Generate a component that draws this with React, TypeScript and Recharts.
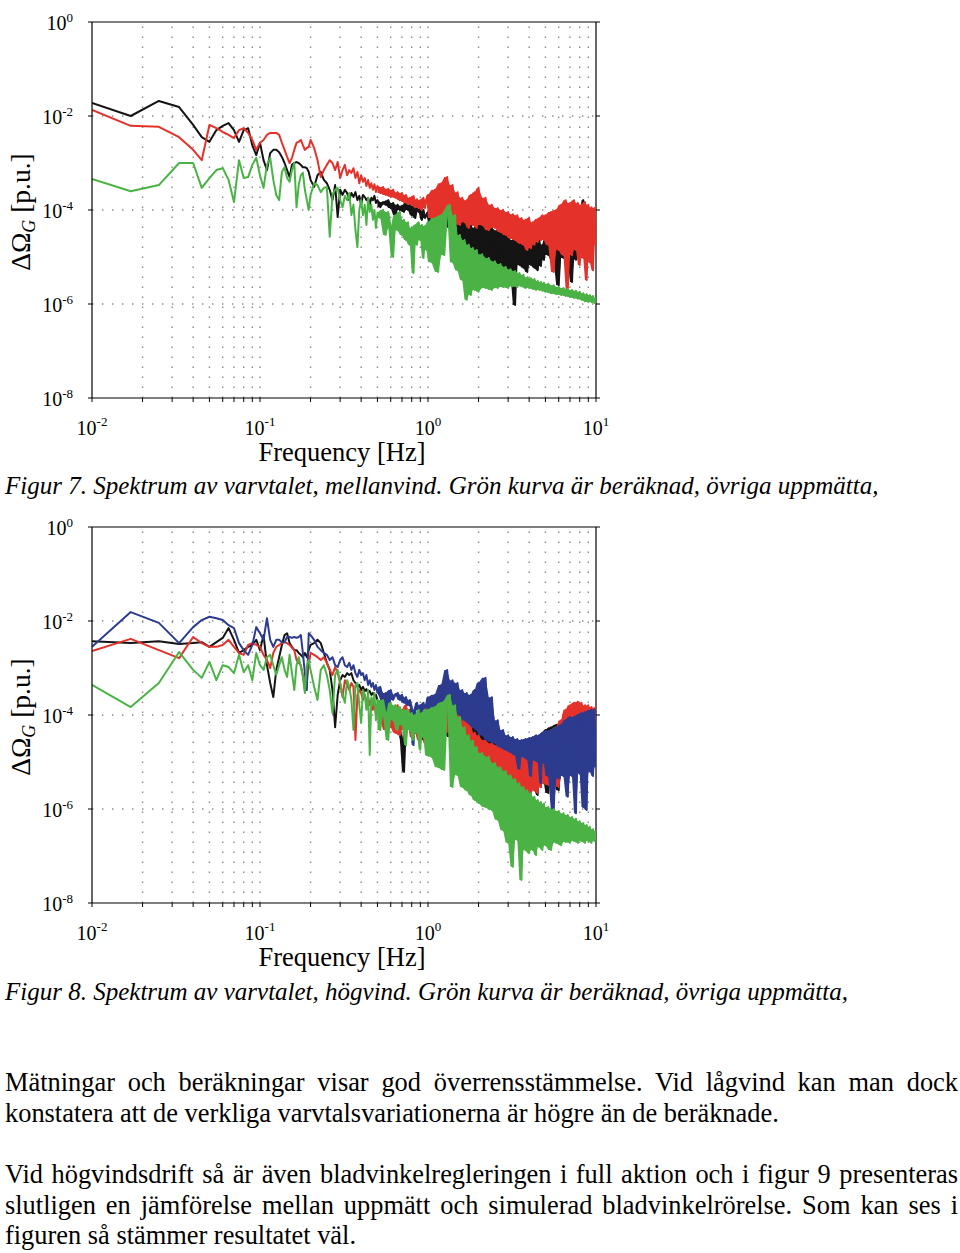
import React from 'react'
import { ComposedChart, Line, Area, XAxis, YAxis, ReferenceLine, Label } from 'recharts'

const SERIF = '"Liberation Serif", "Times New Roman", serif'

// frequency bins [Hz], shared by both figures
const FREQ = [
  0.01, 0.017, 0.025, 0.033, 0.04, 0.045, 0.05, 0.055, 0.06, 0.065, 0.07, 0.075, 0.08, 0.085, 0.09, 0.095,
  0.1, 0.105, 0.11, 0.115, 0.12, 0.125, 0.13, 0.135, 0.14, 0.145, 0.15, 0.155, 0.16, 0.165, 0.17, 0.175, 0.18, 0.185, 0.19, 0.195,
  0.2, 0.21, 0.22, 0.23, 0.24, 0.25, 0.26, 0.27, 0.28, 0.29, 0.3, 0.31, 0.32, 0.33, 0.34,
  0.35, 0.36, 0.37, 0.38, 0.39, 0.4, 0.41, 0.42, 0.43, 0.44, 0.45, 0.46, 0.47, 0.48, 0.49,
  0.5, 0.52, 0.54, 0.56, 0.58, 0.6, 0.62, 0.64, 0.66, 0.68, 0.7, 0.72, 0.74,
  0.76, 0.78, 0.8, 0.82, 0.84, 0.86, 0.88, 0.9, 0.92, 0.94, 0.96, 0.98,
  1.0, 1.05, 1.1, 1.15, 1.2, 1.25, 1.3, 1.35, 1.4, 1.45, 1.5, 1.55, 1.6, 1.65, 1.7, 1.75, 1.8, 1.85, 1.9, 1.95,
  2.0, 2.1, 2.2, 2.3, 2.4, 2.5, 2.6, 2.7, 2.8, 2.9, 3.0, 3.1, 3.2, 3.3, 3.4,
  3.5, 3.6, 3.7, 3.8, 3.9, 4.0, 4.1, 4.2, 4.3, 4.4, 4.5, 4.6, 4.7, 4.8, 4.9,
  5.0, 5.2, 5.4, 5.6, 5.8, 6.0, 6.2, 6.4, 6.6, 6.8, 7.0, 7.2, 7.4,
  7.6, 7.8, 8.0, 8.2, 8.4, 8.6, 8.8, 9.0, 9.2, 9.4, 9.6, 9.8, 10.0,
]

// Figur 7 (mellanvind), log10 of delta Omega_G [p.u.]
const FIG7_BLACK = [
  -1.72, -2.0, -1.68, -1.81, -2.19, -2.45, -2.55, -2.3, -2.21, -2.15, -2.3, -2.55, -2.3, -2.26, -2.62, -2.83,
  -2.57, -2.94, -3.15, -2.79, -2.72, -2.72, -2.77, -2.87, -3.0, -3.15, -3.3, -3.04, -3.0, -2.98, -3.0, -3.04, -3.09, -3.09, -3.11, -3.19,
  -3.36, -3.51, -3.26, -3.19, -3.36, -3.43, -3.57, -3.79, -3.47, -4.15, -3.57, -3.68, -3.57, -3.64, -3.79,
  -3.64, -3.72, -3.62, -3.79, -3.7, -3.89, -3.68, -3.72, -3.79, -3.74, -3.89, -3.74, -3.79, -3.7, -3.85,
  -3.79, -3.94, -3.83, -3.89, -3.79, -3.96, -3.85, -4.11, -3.89, -4.0, -3.91, -4.04, -3.85,
  -4.0, -3.89, -4.11, -3.91, -4.17, -3.96, -4.04, -3.91, -4.21, -4.0, -4.17, -4.11,
  -4.04, -4.26, -4.0, -4.32, -3.96, -4.26, -4.04, -4.38, -4.11, -4.47, -4.17, -4.64, -4.21, -4.74, -4.26, -4.85, -4.32, -4.96, -4.38, -5.11,
  -4.26, -5.02, -4.32, -5.17, -4.38, -5.11, -4.43, -5.28, -4.47, -5.23, -4.53, -5.38, -4.64, -6.02, -4.6,
  -5.17, -4.53, -5.23, -4.6, -5.32, -4.64, -5.17, -4.57, -5.23, -4.53, -5.28, -4.64, -5.19, -4.74, -5.06,
  -4.53, -4.96, -4.43, -5.11, -4.47, -5.6, -4.53, -5.02, -4.38, -5.11, -4.43, -5.53, -4.38,
  -5.06, -4.32, -4.96, -4.11, -3.79, -4.43, -5.11, -4.32, -4.85, -4.26, -4.74, -4.21, -4.64,
]
const FIG7_RED = [
  -1.87, -2.21, -2.23, -2.45, -2.72, -2.94, -2.19, -2.26, -2.34, -2.4, -2.47, -2.3, -2.26, -2.36, -2.51, -2.72,
  -2.57, -2.51, -2.4, -2.36, -2.36, -2.36, -2.4, -2.57, -2.72, -2.87, -3.0, -2.89, -2.72, -2.57, -2.55, -2.51, -2.62, -2.72, -2.68, -2.66,
  -2.51, -2.68, -2.94, -3.3, -3.15, -3.04, -2.94, -3.0, -3.15, -2.98, -3.32, -3.15, -3.04, -3.26, -3.15,
  -3.21, -3.11, -3.32, -3.19, -3.43, -3.26, -3.4, -3.32, -3.49, -3.36, -3.53, -3.43, -3.57, -3.45, -3.62,
  -3.49, -3.64, -3.51, -3.68, -3.55, -3.72, -3.57, -3.74, -3.62, -3.79, -3.64, -3.83, -3.68,
  -3.87, -3.74, -3.89, -3.7, -3.94, -3.77, -3.96, -3.79, -4.0, -3.74, -3.96, -3.79,
  -3.68, -4.17, -3.57, -4.21, -3.43, -4.11, -3.3, -4.17, -3.47, -4.26, -3.62, -4.32, -3.74, -4.26, -3.79, -4.38, -3.68, -4.32, -3.62, -4.38,
  -3.53, -4.32, -3.74, -4.43, -3.89, -4.38, -3.96, -4.47, -4.0, -4.53, -4.04, -4.6, -4.09, -4.64, -4.11,
  -4.7, -4.17, -4.74, -4.21, -4.85, -4.17, -4.81, -4.26, -4.74, -4.21, -4.68, -4.17, -4.64, -4.11, -4.64,
  -4.11, -4.74, -4.04, -5.32, -4.0, -4.85, -3.89, -4.96, -3.79, -5.7, -3.85, -4.96, -3.79,
  -4.85, -3.85, -5.17, -3.89, -5.02, -3.83, -5.49, -3.89, -5.11, -3.94, -5.28, -3.96, -4.74,
]
const FIG7_GREEN = [
  -3.34, -3.6, -3.47, -3.0, -3.0, -3.53, -3.32, -3.15, -3.11, -3.36, -3.83, -2.94, -3.32, -3.3, -3.04, -2.89,
  -3.26, -3.53, -3.04, -2.89, -3.36, -3.68, -3.79, -3.19, -3.09, -3.32, -3.4, -3.15, -3.0, -3.94, -3.47, -3.26, -3.21, -3.57, -3.79, -4.0,
  -3.68, -3.43, -3.47, -3.62, -3.53, -3.51, -4.57, -3.68, -3.57, -3.53, -3.79, -3.94, -3.7, -3.79, -3.64,
  -4.11, -3.89, -4.43, -4.79, -4.0, -3.79, -4.11, -3.89, -4.32, -3.74, -4.04, -3.89, -4.21, -4.0, -4.38,
  -4.06, -4.17, -4.0, -4.53, -4.04, -4.38, -5.0, -4.11, -4.43, -4.04, -4.53, -4.21, -4.64,
  -4.26, -4.74, -4.38, -5.34, -4.32, -4.74, -4.26, -4.64, -4.32, -5.02, -4.34, -4.85,
  -4.26, -5.11, -4.17, -5.32, -4.11, -4.96, -4.0, -3.89, -5.11, -4.11, -5.28, -4.53, -5.49, -4.64, -5.91, -4.74, -5.81, -4.81, -5.7, -4.85,
  -5.74, -4.94, -5.66, -5.02, -5.7, -5.09, -5.66, -5.15, -5.64, -5.21, -5.66, -5.26, -5.62, -5.3, -5.64,
  -5.34, -5.62, -5.38, -5.66, -5.43, -5.66, -5.45, -5.68, -5.47, -5.7, -5.51, -5.7, -5.53, -5.72, -5.55,
  -5.74, -5.57, -5.77, -5.6, -5.79, -5.64, -5.81, -5.66, -5.83, -5.68, -5.85, -5.7, -5.87,
  -5.72, -5.89, -5.74, -5.91, -5.77, -5.94, -5.79, -5.96, -5.81, -5.96, -5.83, -5.98, -5.87,
]

// Figur 8 (högvind)
const FIG8_BLACK = [
  -2.43, -2.47, -2.43, -2.49, -2.47, -2.45, -2.55, -2.45, -2.36, -2.15, -2.4, -2.68, -2.62, -2.55, -2.51, -2.4,
  -2.62, -2.3, -2.94, -3.32, -3.62, -3.04, -2.77, -2.51, -2.3, -2.26, -2.47, -2.55, -2.62, -2.62, -2.68, -2.72, -2.77, -2.68, -2.77, -2.62,
  -2.51, -2.47, -2.4, -2.47, -2.68, -2.89, -3.04, -3.47, -4.26, -3.57, -3.26, -3.15, -3.19, -3.11, -3.15,
  -3.11, -3.26, -3.32, -3.4, -3.36, -3.47, -3.4, -3.49, -3.45, -3.53, -3.49, -3.57, -3.53, -3.62, -3.57,
  -3.68, -3.79, -3.7, -3.94, -3.85, -4.09, -3.98, -4.25, -4.11, -4.32, -4.53, -5.21, -4.17,
  -4.26, -4.11, -4.17, -4.32, -4.21, -4.38, -4.26, -4.43, -4.32, -4.53, -4.38, -4.64,
  -3.83, -4.32, -3.77, -4.43, -3.68, -4.38, -3.57, -4.47, -3.68, -4.53, -3.79, -4.64, -3.89, -4.74, -4.0, -4.85, -4.11, -4.96, -4.21, -5.02,
  -4.26, -5.11, -4.38, -5.23, -4.47, -5.32, -4.6, -5.38, -4.64, -5.45, -4.68, -5.49, -4.74, -5.53, -4.74,
  -5.6, -4.7, -5.53, -4.64, -5.66, -4.6, -5.49, -4.53, -5.6, -4.47, -5.7, -4.43, -5.53, -4.38, -5.45,
  -4.32, -5.66, -4.26, -5.38, -4.21, -5.6, -4.17, -5.28, -4.11, -5.32, -4.04, -5.23, -4.0,
  -5.7, -4.0, -5.17, -3.96, -5.11, -3.94, -5.23, -3.91, -5.02, -3.89, -5.11, -3.89, -4.85,
]
const FIG8_RED = [
  -2.64, -2.38, -2.62, -2.79, -2.34, -2.47, -2.55, -2.55, -2.51, -2.4, -2.55, -2.68, -2.72, -2.51, -2.47, -2.51,
  -2.55, -2.72, -2.83, -3.0, -2.68, -2.55, -2.51, -2.47, -2.45, -2.47, -2.51, -2.57, -2.62, -2.83, -2.89, -2.94, -3.15, -3.47, -3.26, -2.94,
  -2.68, -2.72, -2.77, -2.83, -2.77, -2.89, -3.04, -3.15, -2.98, -3.11, -3.32, -3.62, -3.26, -3.36, -3.47,
  -3.32, -3.4, -4.53, -3.57, -3.47, -3.53, -3.68, -3.57, -3.74, -3.62, -3.79, -3.68, -3.89, -3.74, -4.0,
  -3.79, -4.11, -3.89, -4.32, -3.79, -4.26, -3.89, -4.38, -3.79, -4.43, -3.89, -4.32, -3.79,
  -4.21, -3.89, -4.47, -3.96, -4.38, -4.0, -4.53, -3.91, -4.43, -3.96, -4.6, -4.0,
  -3.79, -4.32, -3.68, -4.26, -3.57, -4.32, -3.47, -4.38, -3.62, -4.43, -3.74, -4.53, -3.89, -4.64, -4.04, -4.74, -4.21, -4.89, -4.38, -5.02,
  -4.43, -5.17, -4.53, -5.23, -4.6, -5.32, -4.64, -5.38, -4.68, -5.45, -4.74, -5.49, -4.7, -5.55, -4.74,
  -5.6, -4.77, -5.66, -4.74, -5.62, -4.7, -5.7, -4.64, -5.6, -4.6, -5.66, -4.55, -5.53, -4.47, -5.45,
  -4.38, -5.49, -4.32, -5.32, -4.26, -5.53, -4.11, -5.23, -3.89, -5.02, -3.79, -4.85, -3.74,
  -4.89, -3.72, -4.74, -3.74, -5.02, -3.79, -4.81, -3.79, -4.96, -3.83, -5.06, -3.85, -4.74,
]
const FIG8_BLUE = [
  -2.55, -1.81, -2.04, -2.47, -2.13, -1.98, -1.91, -1.94, -1.98, -2.09, -2.15, -2.47, -2.62, -2.72, -2.51, -2.13,
  -2.26, -2.4, -1.94, -2.4, -2.55, -2.4, -2.4, -2.45, -2.45, -2.34, -2.34, -2.36, -2.34, -2.36, -2.34, -2.3, -2.68, -3.11, -3.47, -2.26,
  -2.3, -2.4, -2.55, -2.62, -2.68, -2.72, -2.83, -2.77, -2.94, -2.98, -2.83, -2.77, -2.94, -2.98, -2.89,
  -3.04, -2.94, -3.11, -3.19, -3.04, -3.15, -3.11, -3.26, -3.15, -3.36, -3.26, -3.4, -3.32, -3.47, -3.36,
  -3.53, -3.4, -3.68, -3.53, -4.32, -3.47, -3.68, -3.57, -3.53, -3.68, -3.57, -3.74, -3.62,
  -3.79, -3.68, -3.83, -4.64, -3.89, -3.74, -3.91, -3.79, -3.96, -3.74, -3.89, -3.79,
  -3.62, -4.0, -3.57, -3.96, -3.36, -3.89, -3.04, -3.79, -3.26, -3.96, -3.32, -4.0, -3.47, -4.11, -3.53, -4.17, -3.57, -4.26, -3.47, -4.32,
  -3.32, -4.43, -3.21, -4.55, -3.62, -4.6, -4.11, -4.68, -4.32, -4.74, -4.43, -4.79, -4.47, -4.85, -4.51,
  -5.15, -4.53, -4.89, -4.51, -4.94, -4.49, -5.3, -4.47, -4.96, -4.43, -5.0, -4.43, -5.45, -4.38, -5.02,
  -4.34, -5.3, -4.32, -6.09, -4.26, -5.35, -4.21, -5.3, -4.11, -5.74, -4.04, -5.3, -4.04,
  -6.09, -4.0, -5.25, -3.96, -5.96, -3.94, -6.02, -3.91, -5.2, -3.89, -5.3, -3.89, -5.11,
]
const FIG8_GREEN = [
  -3.36, -3.83, -3.32, -2.66, -3.04, -3.21, -2.87, -3.26, -2.94, -2.98, -3.11, -2.72, -3.09, -2.94, -3.26, -2.68,
  -2.94, -3.04, -2.77, -2.72, -2.94, -3.15, -2.94, -2.77, -3.04, -3.19, -2.72, -3.11, -3.47, -2.94, -2.77, -2.98, -3.19, -3.53, -2.94, -2.83,
  -3.04, -3.4, -3.68, -3.04, -2.94, -3.15, -3.47, -3.96, -3.15, -3.04, -3.32, -3.57, -3.74, -3.26, -3.4,
  -3.68, -4.32, -3.36, -3.32, -3.79, -4.17, -3.47, -3.57, -3.89, -3.47, -4.85, -3.62, -3.79, -3.53, -4.11,
  -3.68, -4.32, -3.68, -4.0, -4.53, -3.74, -4.11, -3.79, -4.32, -3.83, -4.21, -3.89, -4.64,
  -3.89, -4.32, -3.96, -4.53, -4.0, -4.38, -3.89, -4.74, -3.96, -4.47, -3.89, -4.85,
  -3.89, -4.89, -3.83, -5.11, -3.74, -5.17, -3.68, -3.57, -5.53, -3.79, -5.28, -4.04, -5.53, -4.26, -5.6, -4.43, -5.7, -4.55, -5.81, -4.68,
  -5.87, -4.81, -5.96, -4.89, -6.02, -5.02, -6.23, -5.11, -6.45, -5.19, -6.72, -5.28, -7.23, -5.36, -6.66,
  -5.45, -7.51, -5.53, -6.87, -5.6, -6.94, -5.66, -6.87, -5.74, -6.98, -5.81, -6.81, -5.85, -6.87, -5.89,
  -6.77, -5.96, -6.87, -6.0, -6.72, -6.04, -6.77, -6.09, -6.7, -6.13, -6.72, -6.17, -6.68,
  -6.21, -6.72, -6.26, -6.68, -6.3, -6.72, -6.34, -6.68, -6.38, -6.72, -6.43, -6.68, -6.47,
]

const X_TICKS = [
  0.01, 0.02, 0.03, 0.04, 0.05, 0.06, 0.07, 0.08, 0.09,
  0.1, 0.2, 0.3, 0.4, 0.5, 0.6, 0.7, 0.8, 0.9,
  1, 2, 3, 4, 5, 6, 7, 8, 9, 10,
]
const X_MAJOR = [0.01, 0.1, 1, 10]
const X_MAJOR_EXP = ['-2', '-1', '0', '1']
const Y_TICKS = [1e-8, 1e-6, 1e-4, 1e-2, 1]
const Y_TICK_EXP = ['-8', '-6', '-4', '-2', '0']
const GRID_Y = [1e-6, 1e-4, 1e-2]

const BLACK = '#141414'
const RED = '#e4322a'
const GREEN = '#4bb345'
const BLUE = '#2c3b8e'

const CHART_W = 620
const CHART_H = 470
const PLOT_W = 504
// above this frequency neighbouring bins overlap into a solid band, as in the printed plot
const BAND_FROM_HZ = 0.5

function sameLog(a: number, b: number) {
  return Math.abs(Math.log10(a) - Math.log10(b)) < 1e-6
}

function buildRows(series: Record<string, number[]>) {
  return FREQ.map((f, i) => {
    const row: Record<string, any> = { f }
    for (const k of Object.keys(series)) {
      const s = series[k]
      row[k] = Math.pow(10, s[i])
      if (f >= BAND_FROM_HZ) {
        const j = Math.min(i + 1, s.length - 1)
        row[k + 'Band'] = [Math.pow(10, Math.min(s[i], s[j])), Math.pow(10, Math.max(s[i], s[j]))]
      } else {
        row[k + 'Band'] = null
      }
    }
    return row
  })
}

function XTick(props: any) {
  const { x, y, payload } = props
  const i = X_MAJOR.findIndex((v) => sameLog(v, payload.value))
  if (i < 0) return null
  return (
    <text x={x} y={y + 33} textAnchor="middle" fontFamily={SERIF} fontSize={20} fill="#000">
      10
      <tspan dy={-9} fontSize={13}>{X_MAJOR_EXP[i]}</tspan>
    </text>
  )
}

function YTick(props: any) {
  const { x, y, payload } = props
  const i = Y_TICKS.findIndex((v) => sameLog(v, payload.value))
  if (i < 0) return null
  return (
    <g>
      <text x={x - 15} y={y + 8} textAnchor="end" fontFamily={SERIF} fontSize={20} fill="#000">
        10
        <tspan dy={-8} fontSize={13}>{Y_TICK_EXP[i]}</tspan>
      </text>
      {/* matching tick on the right-hand frame */}
      <line x1={x + 4 + PLOT_W} x2={x + 8 + PLOT_W} y1={y} y2={y} stroke="#000" />
    </g>
  )
}

function XTitle(props: any) {
  const vb = props.viewBox
  return (
    <text x={vb.x + vb.width / 2 - 2} y={vb.y + 63} textAnchor="middle" fontFamily={SERIF} fontSize={26.5} fill="#000">
      Frequency [Hz]
    </text>
  )
}

function YTitle(props: any) {
  const vb = props.viewBox
  const cx = 30
  const cy = vb.y + vb.height / 2 + 2
  return (
    <text x={cx} y={cy} transform={`rotate(-90, ${cx}, ${cy})`} textAnchor="middle" fontFamily={SERIF} fontSize={27.5} fill="#000">
      ΔΩ
      <tspan dy={5} fontSize={18} fontStyle="italic">G</tspan>
      <tspan dy={-5}> [p.u.]</tspan>
    </text>
  )
}

interface SeriesDef {
  key: string
  color: string
}

function Spectrum({ rows, series }: { rows: Record<string, any>[]; series: SeriesDef[] }) {
  return (
    <ComposedChart width={CHART_W} height={CHART_H} data={rows} margin={{ top: 22, right: 24, bottom: 0, left: 0 }}>
      <XAxis
        dataKey="f"
        type="number"
        scale="log"
        domain={[0.01, 10]}
        allowDataOverflow
        ticks={X_TICKS}
        interval={0}
        tick={<XTick />}
        tickSize={4}
        tickMargin={0}
        height={72}
        axisLine={{ stroke: '#000', strokeWidth: 1.2 }}
        tickLine={{ stroke: '#000' }}
      >
        <Label content={XTitle} />
      </XAxis>
      <YAxis
        type="number"
        scale="log"
        domain={[1e-8, 1]}
        allowDataOverflow
        ticks={Y_TICKS}
        interval={0}
        tick={<YTick />}
        tickSize={4}
        tickMargin={0}
        width={92}
        axisLine={{ stroke: '#000', strokeWidth: 1.2 }}
        tickLine={{ stroke: '#000' }}
      >
        <Label content={YTitle} />
      </YAxis>

      {/* dotted grid: every minor decade step vertically, every second decade horizontally */}
      {X_TICKS.filter((v) => v > 0.01 && v < 10).map((v) => (
        <ReferenceLine key={'gx' + v} x={v} stroke="#8a8a8a" strokeWidth={1.4} strokeDasharray="1.4 8.6" />
      ))}
      {GRID_Y.map((v) => (
        <ReferenceLine key={'gy' + v} y={v} stroke="#8a8a8a" strokeWidth={1.4} strokeDasharray="1.4 8.6" />
      ))}
      <ReferenceLine y={1} stroke="#000" strokeWidth={1.2} />
      <ReferenceLine x={10} stroke="#000" strokeWidth={1.2} />

      {series.flatMap((s, idx) => [
        <Area
          key={s.key + 'Band'}
          type="linear"
          dataKey={s.key + 'Band'}
          stroke="none"
          fill={s.color}
          fillOpacity={1}
          dot={false}
          activeDot={false}
          isAnimationActive={false}
          zIndex={401 + idx * 2}
        />,
        <Line
          key={s.key}
          type="linear"
          dataKey={s.key}
          stroke={s.color}
          strokeWidth={2}
          strokeLinejoin="round"
          dot={false}
          activeDot={false}
          isAnimationActive={false}
          zIndex={402 + idx * 2}
        />,
      ])}
    </ComposedChart>
  )
}

const fig7Rows = buildRows({ black: FIG7_BLACK, red: FIG7_RED, green: FIG7_GREEN })
const fig8Rows = buildRows({ black: FIG8_BLACK, red: FIG8_RED, blue: FIG8_BLUE, green: FIG8_GREEN })

const captionStyle: React.CSSProperties = {
  position: 'absolute',
  left: 5,
  fontFamily: SERIF,
  fontStyle: 'italic',
  fontSize: 25,
  lineHeight: '25px',
  whiteSpace: 'nowrap',
}

const bodyStyle: React.CSSProperties = {
  position: 'absolute',
  left: 5,
  width: 953,
  fontFamily: SERIF,
  fontSize: 26.4,
  lineHeight: '30.5px',
}

const fullLine: React.CSSProperties = { textAlign: 'justify', textAlignLast: 'justify', whiteSpace: 'nowrap' }
const lastLine: React.CSSProperties = { textAlign: 'left', whiteSpace: 'nowrap' }

export default function App() {
  return (
    <div style={{ position: 'absolute', left: 0, top: 0, width: 960, height: 1253, background: '#fff', overflow: 'hidden', color: '#000' }}>
      <div style={{ position: 'absolute', left: 0, top: 0 }}>
        <Spectrum
          rows={fig7Rows}
          series={[
            { key: 'black', color: BLACK },
            { key: 'red', color: RED },
            { key: 'green', color: GREEN },
          ]}
        />
      </div>
      <div style={{ ...captionStyle, top: 473 }}>
        Figur 7. Spektrum av varvtalet, mellanvind. Grön kurva är beräknad, övriga uppmätta,
      </div>

      <div style={{ position: 'absolute', left: 0, top: 505 }}>
        <Spectrum
          rows={fig8Rows}
          series={[
            { key: 'black', color: BLACK },
            { key: 'red', color: RED },
            { key: 'blue', color: BLUE },
            { key: 'green', color: GREEN },
          ]}
        />
      </div>
      <div style={{ ...captionStyle, top: 979 }}>
        Figur 8. Spektrum av varvtalet, högvind. Grön kurva är beräknad, övriga uppmätta,
      </div>

      <div style={{ ...bodyStyle, top: 1067 }}>
        <div style={fullLine}>Mätningar och beräkningar visar god överrensstämmelse. Vid lågvind kan man dock</div>
        <div style={lastLine}>konstatera att de verkliga varvtalsvariationerna är högre än de beräknade.</div>
      </div>
      <div style={{ ...bodyStyle, top: 1159 }}>
        <div style={fullLine}>Vid högvindsdrift så är även bladvinkelregleringen i full aktion och i figur 9 presenteras</div>
        <div style={fullLine}>slutligen en jämförelse mellan uppmätt och simulerad bladvinkelrörelse. Som kan ses i</div>
        <div style={lastLine}>figuren så stämmer resultatet väl.</div>
      </div>
    </div>
  )
}
